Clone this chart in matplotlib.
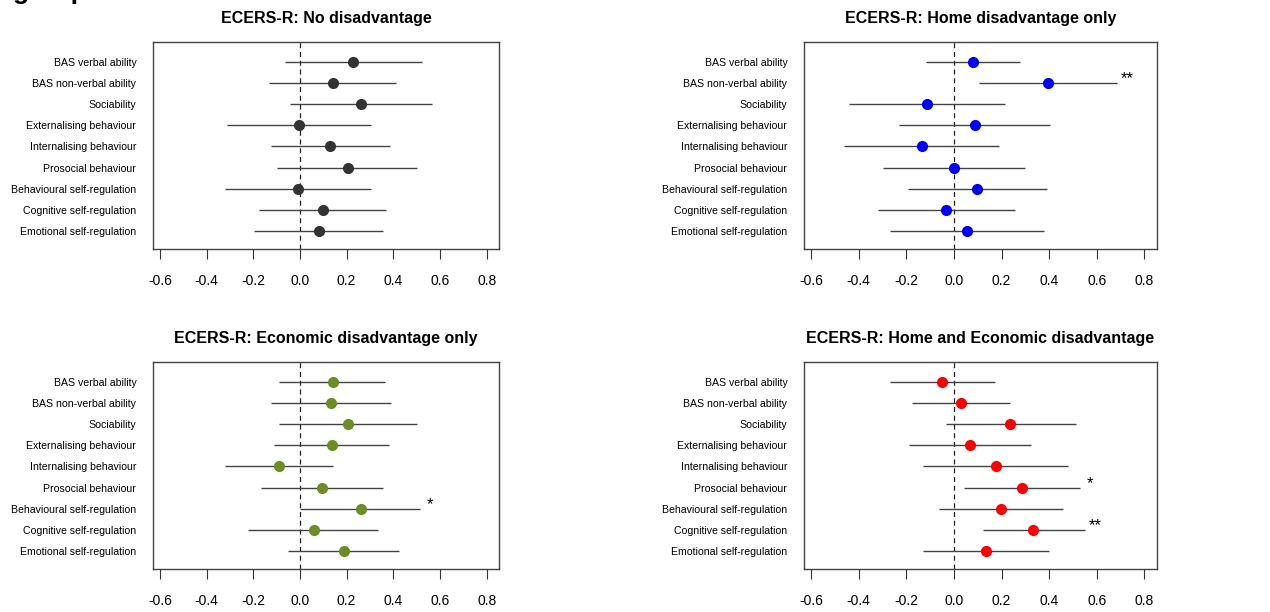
import matplotlib
matplotlib.use("Agg")
from matplotlib import pyplot as plt

plt.rcParams['font.family'] = ['Liberation Sans', 'DejaVu Sans']

outcomes = ['BAS verbal ability', 'BAS non-verbal ability', 'Sociability',
            'Externalising behaviour', 'Internalising behaviour', 'Prosocial behaviour',
            'Behavioural self-regulation', 'Cognitive self-regulation',
            'Emotional self-regulation']

titles = ['ECERS-R: No disadvantage', 'ECERS-R: Home disadvantage only',
          'ECERS-R: Economic disadvantage only', 'ECERS-R: Home and Economic disadvantage']

colors = ['#333333', '#0000FF', '#6B8E23', '#FF0000']

# estimates and 95% CI bounds, one list per group
est_none = [0.228, 0.140, 0.261, -0.004, 0.128, 0.204, -0.007, 0.100, 0.080]
lo_none = [-0.064, -0.131, -0.041, -0.313, -0.124, -0.100, -0.322, -0.175, -0.197]
hi_none = [0.523, 0.413, 0.564, 0.305, 0.387, 0.503, 0.305, 0.370, 0.356]

est_home = [0.080, 0.394, -0.115, 0.088, -0.136, 0.001, 0.097, -0.032, 0.056]
lo_home = [-0.119, 0.104, -0.442, -0.232, -0.460, -0.298, -0.195, -0.319, -0.268]
hi_home = [0.278, 0.685, 0.216, 0.404, 0.188, 0.300, 0.392, 0.258, 0.379]

est_econ = [0.140, 0.132, 0.207, 0.137, -0.091, 0.094, 0.261, 0.058, 0.187]
lo_econ = [-0.088, -0.125, -0.088, -0.111, -0.323, -0.167, 0.000, -0.221, -0.053]
hi_econ = [0.366, 0.392, 0.503, 0.380, 0.142, 0.356, 0.514, 0.336, 0.424]

est_both = [-0.049, 0.031, 0.237, 0.067, 0.175, 0.284, 0.199, 0.333, 0.135]
lo_both = [-0.268, -0.175, -0.032, -0.187, -0.132, 0.044, -0.062, 0.121, -0.132]
hi_both = [0.174, 0.237, 0.512, 0.324, 0.481, 0.528, 0.458, 0.549, 0.400]

# significance stars: (group index, row index, label)
stars = [(1, 1, '**'), (2, 6, '*'), (3, 5, '*'), (3, 7, '**')]

groups = [(est_none, lo_none, hi_none), (est_home, lo_home, hi_home),
          (est_econ, lo_econ, hi_econ), (est_both, lo_both, hi_both)]

fig = plt.figure(figsize=(12.7, 6.12), dpi=100)

# axes boxes in pixels: left, right, top, bottom
boxes = [(153, 499, 42, 249), (804, 1157, 42, 249),
         (153, 499, 362, 569), (804, 1157, 362, 569)]

rows = list(range(1, len(outcomes) + 1))
ticks = [-0.6, -0.4, -0.2, 0.0, 0.2, 0.4, 0.6, 0.8]

for i, (est, lo, hi) in enumerate(groups):
    l, r, t, b = boxes[i]
    ax = fig.add_axes([l / 1270, 1 - b / 612, (r - l) / 1270, (b - t) / 612])
    ax.hlines(rows, lo, hi, color='#444444', lw=1.0, zorder=2)
    ax.plot(est, rows, 'o', color=colors[i], ms=7, zorder=3)
    ax.axvline(0, color='#222222', lw=0.9, ls=(0, (4, 3)), zorder=1)
    for g, row, lab in stars:
        if g == i:
            ax.text(hi[row] + 0.045, rows[row] - 0.2, lab, fontsize=12,
                    ha='center', va='center')
    ax.set_xlim(-0.63, 0.853)
    ax.set_ylim(9.85, 0.07)
    ax.set_xticks(ticks)
    ax.set_xticklabels(['%.1f' % v for v in ticks], fontsize=10)
    ax.tick_params(axis='x', length=7, pad=11, width=0.8, color='#333333')
    ax.set_yticks(rows)
    ax.set_yticklabels(outcomes, fontsize=7.6)
    ax.tick_params(axis='y', length=0, pad=12)
    for s in ax.spines.values():
        s.set_linewidth(1.0)
        s.set_color('#444444')
    ax.set_title(titles[i], fontsize=11.5, fontweight='bold', pad=14)

# clipped heading at the very top
fig.text(0.01, 1.0 + 1.5 / 612, 'group', fontsize=19, fontweight='bold', va='baseline')

fig.savefig('out.png', dpi=100)
